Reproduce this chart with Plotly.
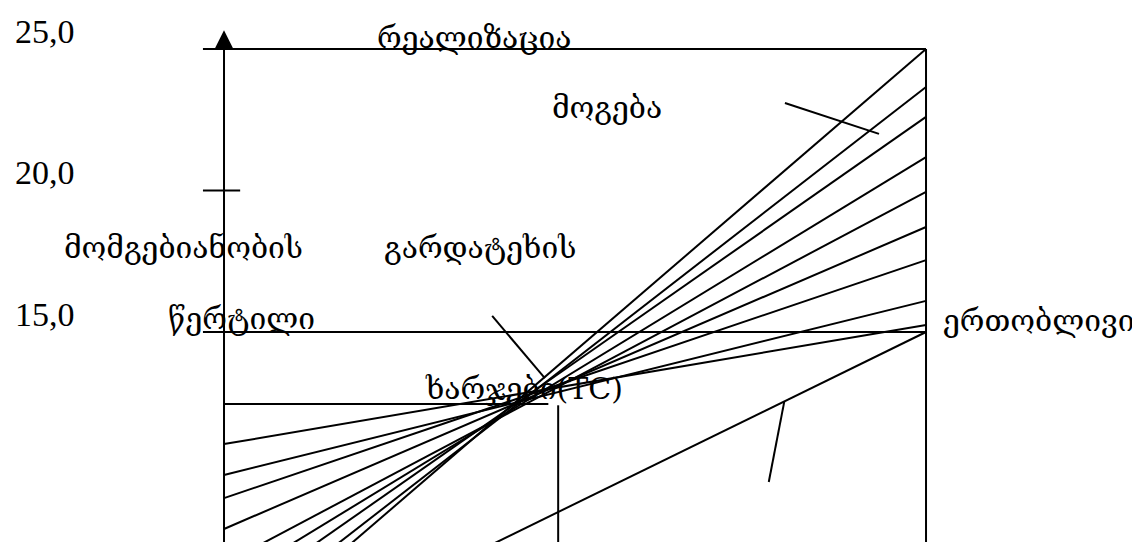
import plotly.graph_objects as go

# fan of revenue lines: value at x=0 (left axis) and x=10 (right edge)
fan_left = [3.66, 4.40, 5.26, 6.05, 6.81, 8.04, 9.13, 9.95, 11.04]
fan_right = [25.0, 23.66, 22.60, 21.18, 19.95, 18.71, 17.54, 16.10, 15.25]

# total cost line
cost_x = [0, 10]
cost_y = [2.86, 15.0]

# guide lines
level_top = 25.0
level_mid = 15.0
level_be = 12.46
be_x = 4.76
x_end = 10
tick_20 = 20.0

# pointer strokes (start, end)
pointers = [
    ([7.99, 9.33], [23.09, 22.0]),
    ([3.82, 4.57], [15.57, 13.37]),
    ([7.98, 7.76], [12.53, 9.70]),
]

tick_vals = [25.0, 20.0, 15.0]
tick_text = ["25,0", "20,0", "15,0"]

labels = ["რეალიზაცია", "მოგება", "მომგებიანობის", "გარდატეხის",
          "წერტილი", "ერთობლივი", "ხარჯები(TC)"]
label_x = [3.575, 5.456, -0.584, 3.647, 0.256, 10.21, 2.835]
label_y = [25.42, 22.92, 17.97, 17.97, 15.49, 15.42, 13.02]
label_anchor = ["center", "center", "center", "center", "center", "left", "left"]

# page has an 8px body margin, ranges are shifted to compensate
x_min, x_max = -3.077, 13.162
y_min, y_max = 7.297, 26.449

fig = go.Figure()


def seg(xs, ys, w=2):
    fig.add_trace(go.Scatter(x=xs, y=ys, mode="lines",
                             line=dict(color="black", width=w),
                             hoverinfo="skip"))


for a, b in zip(fan_left, fan_right):
    seg([0, x_end], [a, b])

seg(cost_x, cost_y)

# frame
seg([0, 0], [y_min - 1, level_top + 0.3])
seg([-0.3, x_end], [level_top, level_top])
seg([-0.3, x_end], [level_mid, level_mid])
seg([-0.3, 0.23], [tick_20, tick_20])
seg([0, be_x - 0.14], [level_be, level_be])
seg([be_x, be_x], [level_be - 0.05, y_min - 1])
seg([x_end, x_end], [level_top, y_min - 1])

for px, py in pointers:
    seg(px, py)

# arrow head on the y axis (tip at marker position)
fig.add_trace(go.Scatter(x=[0], y=[25.66], mode="markers",
                         marker=dict(symbol="arrow-up", size=18, color="black",
                                     line=dict(width=0)),
                         hoverinfo="skip"))

serif = "Liberation Serif, Times New Roman, serif"
geo = "DejaVu Serif, Liberation Serif, serif"

for v, t in zip(tick_vals, tick_text):
    fig.add_annotation(x=-3.0, y=v, text=t, showarrow=False, xanchor="left",
                       yanchor="middle", yshift=18,
                       font=dict(family=serif, size=34, color="black"))

for t, lx, ly, anc in zip(labels, label_x, label_y, label_anchor):
    fig.add_annotation(x=lx, y=ly, text=t, showarrow=False, xanchor=anc,
                       yanchor="middle",
                       font=dict(family=geo, size=30, color="black"))

fig.update_layout(
    width=1140, height=542,
    margin=dict(l=0, r=0, t=0, b=0),
    paper_bgcolor="white", plot_bgcolor="white",
    showlegend=False,
    xaxis=dict(range=[x_min, x_max], visible=False, fixedrange=True),
    yaxis=dict(range=[y_min, y_max], visible=False, fixedrange=True),
)

fig.write_html("out.html")
